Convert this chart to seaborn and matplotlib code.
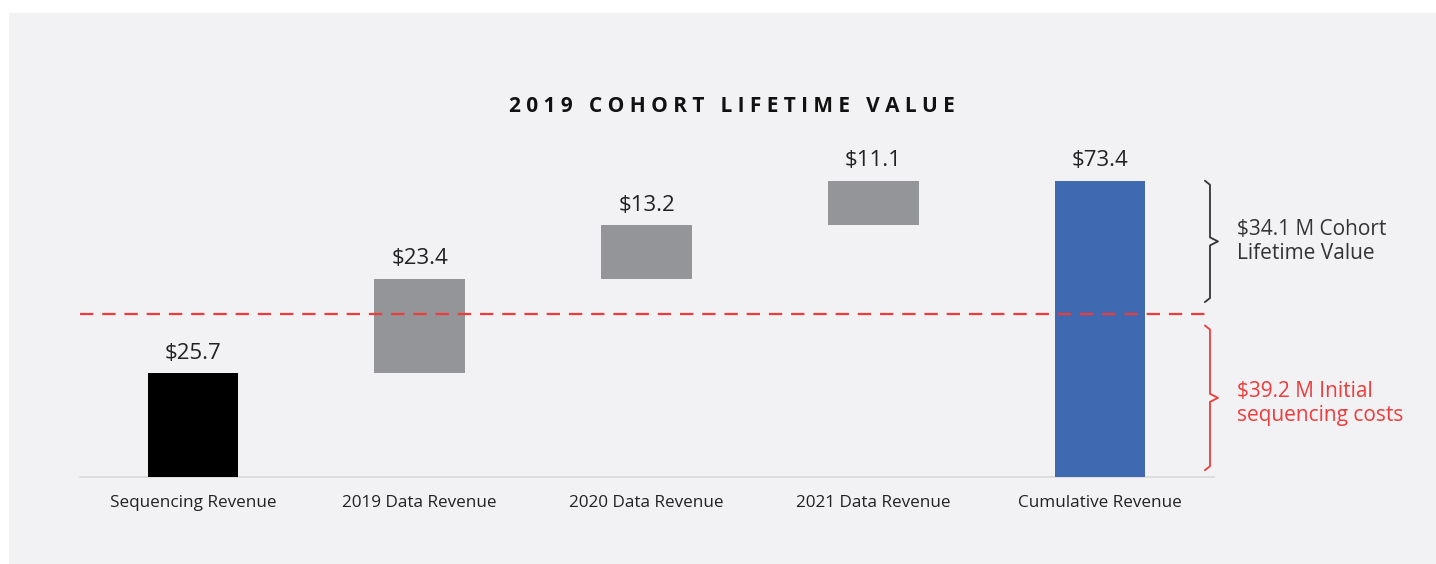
import numpy as np
import pandas as pd
import matplotlib
matplotlib.use('Agg')
import matplotlib.pyplot as plt
import matplotlib.transforms as mtransforms
from matplotlib.patches import Rectangle
import seaborn as sns

# dados do waterfall
categorias = ['Sequencing Revenue', '2019 Data Revenue', '2020 Data Revenue',
              '2021 Data Revenue', 'Cumulative Revenue']
incrementos = [25.7, 23.4, 13.2, 11.1]
total = 73.4
custo_inicial = 39.2
valor_lifetime = 34.1
linha_custo = 40.3  # altura em que a linha tracejada aparece no grafico original
cores = ['#000000', '#939598', '#939598', '#939598', '#3f6ab2']

bases = list(np.cumsum([0] + incrementos[:-1])) + [0]
topos = list(np.cumsum(incrementos)) + [total]
rotulos = incrementos + [total]

df = pd.DataFrame({'categoria': categorias, 'topo': topos, 'base': bases})

sns.set_theme(style='white')
plt.rcParams['font.family'] = ['Open Sans', 'DejaVu Sans']

fig = plt.figure(figsize=(14.36, 5.64), dpi=100, facecolor='white')
fig.patches.append(Rectangle((9 / 1436, 0), 1, (564 - 13) / 564, transform=fig.transFigure,
                             facecolor='#f2f2f4', edgecolor='none', zorder=-10))
ax = fig.add_axes([79.5 / 1436, 87.3 / 564, 1134 / 1436, 322.6 / 564])
ax.set_facecolor('none')

sns.barplot(data=df, x='categoria', y='topo', hue='categoria', palette=cores,
            width=0.4, legend=False, ax=ax, saturation=1, zorder=3)

# transforma as barras em flutuantes
for patch, b, t in zip(ax.patches, bases, topos):
    patch.set_y(b)
    patch.set_height(t - b)
    patch.set_linewidth(0)

for i, (t, v) in enumerate(zip(topos, rotulos)):
    ax.text(i, t + 2.3, f'${v:.1f}', ha='center', va='bottom', fontsize=16, color='#222222')

ax.set_xlim(-0.5, 4.5)
ax.set_ylim(0, 80)
ax.set_xlabel('')
ax.set_ylabel('')
ax.set_yticks([])
ax.tick_params(axis='x', length=0, pad=13, labelsize=12.3, labelcolor='#222222')
for s in ['top', 'left', 'right']:
    ax.spines[s].set_visible(False)
ax.spines['bottom'].set_color('#d9d9d9')
ax.spines['bottom'].set_linewidth(1.2)

ax.axhline(linha_custo, xmin=0, xmax=0.995, color='#ee3b3b', lw=1.6,
           dashes=(6, 4), zorder=4)

trans = mtransforms.blended_transform_factory(ax.transAxes, ax.transData)


def chave(y0, y1, cor):
    x = 0.9969
    dx = 0.0045
    tip = 0.007
    h = 1.0
    m = (y0 + y1) / 2
    xs = [x - dx, x, x, x + tip, x, x, x - dx]
    ys = [y1, y1 - h, m + h, m, m - h, y0 + h, y0]
    ax.plot(xs, ys, color=cor, lw=1.3, transform=trans, clip_on=False,
            solid_joinstyle='round')


chave(linha_custo + 3.0, total, '#333333')
chave(1.6, linha_custo - 2.8, '#ee3b3b')

ax.text(1.0207, (linha_custo + total) / 2 + 1.5, f'${valor_lifetime} M Cohort\nLifetime Value',
        transform=trans, ha='left', va='center', fontsize=15, color='#333333', linespacing=1.2)
ax.text(1.0207, linha_custo / 2 - 2.0, f'${custo_inicial} M Initial\nsequencing costs',
        transform=trans, ha='left', va='center', fontsize=15, color='#ee3b3b', linespacing=1.2)

titulo = '   '.join(' '.join(w) for w in '2019 COHORT LIFETIME VALUE'.split())
fig.text(732 / 1436, 1 - 106 / 564, titulo, ha='center', va='center', fontsize=15,
         fontweight='bold', color='#111111')

fig.savefig('out.png', dpi=100, facecolor=fig.get_facecolor())
